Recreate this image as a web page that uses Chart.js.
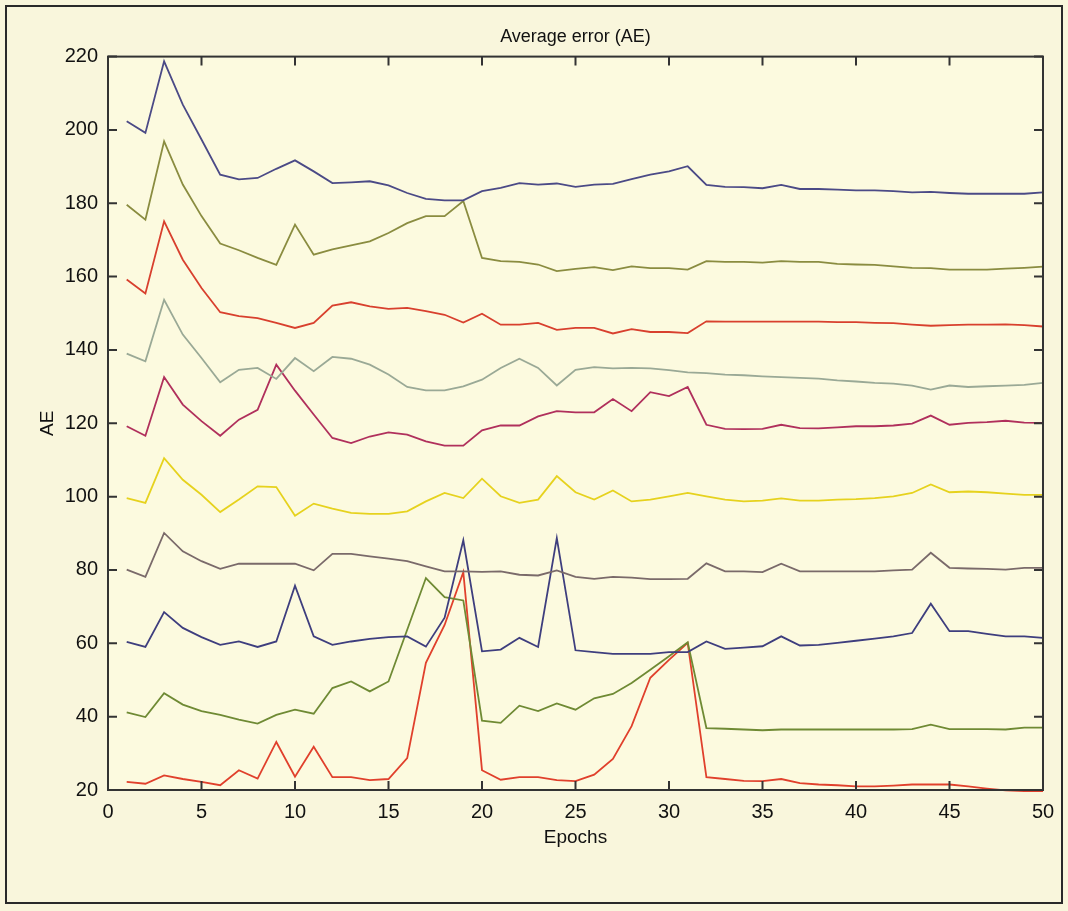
<!DOCTYPE html>
<html lang="en">
  <head>
    <meta charset="UTF-8" />
    <title>Average error (AE)</title>
    <script src="https://cdn.jsdelivr.net/npm/chart.js"></script>
    <style>
      html, body { margin: 0; padding: 0; background: #f9f6dc; }
      #wrap { position: relative; width: 1068px; height: 911px; }
      #frame { position: absolute; left: 5px; top: 5px; width: 1058px; height: 899px; border: 2px solid #2a2a2a; box-sizing: border-box; pointer-events: none; }
      canvas { position: absolute; left: 0; top: 0; }
    </style>
  </head>
  <body>
    <div id="wrap">
      <canvas id="chart" width="1068" height="911"></canvas>
      <div id="frame"></div>
    </div>

    <script>
      // epochs and tick values
      const epochs = [1,2,3,4,5,6,7,8,9,10,11,12,13,14,15,16,17,18,19,20,21,22,23,24,25,26,27,28,29,30,31,32,33,34,35,36,37,38,39,40,41,42,43,44,45,46,47,48,49,50];
      const xTicks = [0, 5, 10, 15, 20, 25, 30, 35, 40, 45, 50];
      const yTicks = [20, 40, 60, 80, 100, 120, 140, 160, 180, 200, 220];

      // series, top to bottom
      const s1 = [202.4,199.2,218.7,206.9,197.4,187.8,186.5,186.9,189.4,191.7,188.7,185.5,185.7,186.0,184.9,182.8,181.2,180.8,180.8,183.3,184.2,185.5,185.1,185.4,184.5,185.1,185.3,186.6,187.8,188.7,190.1,185.0,184.5,184.4,184.1,185.0,183.9,183.9,183.7,183.5,183.5,183.3,183.0,183.1,182.8,182.6,182.6,182.6,182.6,183.0];
      const s2 = [179.6,175.5,196.9,185.1,176.5,169.0,167.2,165.1,163.2,174.2,166.0,167.4,168.5,169.6,171.9,174.6,176.5,176.5,180.6,165.1,164.2,164.0,163.3,161.5,162.1,162.6,161.8,162.8,162.3,162.3,161.9,164.2,164.0,164.0,163.8,164.2,164.0,164.0,163.5,163.3,163.2,162.8,162.4,162.3,161.9,161.9,161.9,162.2,162.4,162.7];
      const s3 = [159.2,155.4,175.1,164.6,156.9,150.3,149.2,148.7,147.4,146.0,147.4,152.1,153.0,151.9,151.2,151.5,150.6,149.6,147.5,149.9,146.9,146.9,147.4,145.5,146.0,146.0,144.5,145.7,144.9,144.9,144.6,147.8,147.7,147.7,147.7,147.7,147.7,147.7,147.6,147.6,147.4,147.3,146.9,146.6,146.8,146.9,146.9,147.0,146.8,146.4];
      const s4 = [139.0,136.9,153.7,144.2,137.8,131.2,134.6,135.1,132.1,137.8,134.2,138.1,137.6,136.0,133.3,129.9,129.0,129.0,130.1,131.9,135.1,137.6,135.1,130.3,134.6,135.3,135.0,135.1,135.0,134.5,133.9,133.7,133.3,133.1,132.8,132.6,132.4,132.2,131.7,131.4,131.0,130.8,130.3,129.2,130.3,129.9,130.1,130.3,130.5,131.0];
      const s5 = [119.2,116.6,132.6,125.1,120.6,116.6,121.0,123.7,136.0,128.9,122.4,116.0,114.6,116.4,117.5,116.9,115.1,113.9,113.9,118.1,119.4,119.4,121.9,123.3,123.0,123.0,126.6,123.3,128.5,127.4,129.9,119.6,118.5,118.4,118.5,119.6,118.7,118.6,118.9,119.2,119.2,119.4,119.9,122.1,119.6,120.1,120.3,120.7,120.2,120.1];
      const s6 = [99.6,98.3,110.5,104.6,100.5,95.8,99.2,102.8,102.6,94.8,98.1,96.7,95.6,95.3,95.3,96.0,98.7,101.0,99.6,104.9,100.1,98.3,99.2,105.6,101.2,99.2,101.7,98.7,99.2,100.1,101.0,100.1,99.2,98.7,98.9,99.5,98.9,98.9,99.2,99.3,99.6,100.1,101.0,103.3,101.2,101.4,101.2,100.8,100.5,100.5];
      const s7 = [80.1,78.1,90.1,85.1,82.4,80.3,81.7,81.7,81.7,81.7,79.9,84.4,84.4,83.7,83.1,82.4,81.0,79.6,79.6,79.5,79.6,78.7,78.5,79.9,78.1,77.6,78.1,77.9,77.5,77.5,77.6,81.8,79.6,79.6,79.4,81.7,79.6,79.6,79.6,79.6,79.6,79.9,80.1,84.7,80.6,80.4,80.3,80.1,80.6,80.6];
      const s8 = [60.4,59.0,68.5,64.2,61.7,59.6,60.5,59.0,60.5,75.7,61.9,59.6,60.5,61.2,61.7,61.9,59.1,67.0,88.1,57.8,58.3,61.5,59.0,88.7,58.1,57.6,57.1,57.1,57.1,57.6,57.6,60.5,58.5,58.8,59.2,61.9,59.4,59.6,60.1,60.7,61.3,61.9,62.8,70.8,63.3,63.3,62.6,61.9,61.9,61.5];
      const s9 = [41.2,39.9,46.4,43.3,41.5,40.5,39.2,38.1,40.5,41.9,40.8,47.8,49.6,46.9,49.6,63.7,77.8,72.6,71.7,38.9,38.3,43.0,41.5,43.6,41.9,45.0,46.2,49.2,52.8,56.5,60.3,36.9,36.7,36.5,36.3,36.5,36.5,36.5,36.5,36.5,36.5,36.5,36.6,37.8,36.6,36.6,36.6,36.5,37.0,37.0];
      const s10 = [22.2,21.7,24.0,23.0,22.2,21.3,25.4,23.1,33.1,23.6,31.8,23.5,23.5,22.7,23.0,28.7,54.7,65.0,79.4,25.4,22.8,23.5,23.5,22.7,22.4,24.2,28.5,37.4,50.6,55.5,60.1,23.5,23.0,22.5,22.4,23.0,21.9,21.5,21.3,21.0,21.0,21.2,21.5,21.5,21.5,21.0,20.4,19.9,19.7,19.7];

      const seriesList = [s1, s2, s3, s4, s5, s6, s7, s8, s9, s10];
      const colors = ["#4b4a86", "#8a8c40", "#d8402e", "#9aa996", "#b0305c", "#e6d21e", "#7a6a6a", "#3e3e7e", "#6f8a34", "#e0402c"];

      const datasets = seriesList.map((s, i) => ({
        data: epochs.map((e, k) => ({ x: e, y: s[k] })),
        borderColor: colors[i],
        borderWidth: 1.8,
        pointRadius: 0,
        tension: 0,
        fill: false,
        clip: 3
      }));

      // matlab style box: plot background, frame and inward ticks
      const matlabBox = {
        id: "matlabBox",
        beforeDraw(chart) {
          const a = chart.chartArea, c = chart.ctx;
          c.save();
          c.fillStyle = "#fcfadf";
          c.fillRect(a.left, a.top, a.right - a.left, a.bottom - a.top);
          c.restore();
        },
        afterDatasetsDraw(chart) {
          const a = chart.chartArea, c = chart.ctx;
          const xs = chart.scales.x, ys = chart.scales.y;
          c.save();
          c.strokeStyle = "#333";
          c.lineWidth = 2;
          c.strokeRect(a.left, a.top, a.right - a.left, a.bottom - a.top);
          c.beginPath();
          xTicks.forEach(v => {
            const px = xs.getPixelForValue(v);
            c.moveTo(px, a.bottom); c.lineTo(px, a.bottom - 9);
            c.moveTo(px, a.top); c.lineTo(px, a.top + 9);
          });
          yTicks.forEach(v => {
            const py = ys.getPixelForValue(v);
            c.moveTo(a.left, py); c.lineTo(a.left + 9, py);
            c.moveTo(a.right, py); c.lineTo(a.right - 9, py);
          });
          c.stroke();
          c.restore();
        }
      };

      Chart.defaults.font.family = "'Liberation Sans', Arial, sans-serif";
      Chart.defaults.color = "#111";

      new Chart(document.getElementById("chart"), {
        type: "line",
        data: { datasets },
        plugins: [matlabBox],
        options: {
          responsive: false,
          animation: false,
          layout: { padding: { left: 0, right: 25, top: 0, bottom: 51 } },
          plugins: {
            legend: { display: false },
            tooltip: { enabled: false },
            title: {
              display: true,
              text: "Average error (AE)",
              fullSize: false,
              color: "#111",
              font: { size: 18, weight: "normal" },
              padding: { top: 26, bottom: 9 }
            }
          },
          scales: {
            x: {
              type: "linear",
              min: 0,
              max: 50,
              grid: { display: false, drawTicks: false },
              border: { display: false },
              ticks: { stepSize: 5, padding: 10, font: { size: 20 }, color: "#111", maxRotation: 0 },
              title: { display: true, text: "Epochs", font: { size: 19 }, color: "#111", padding: { top: 0, bottom: 11 } },
              afterFit(scale) { scale.height = 70; }
            },
            y: {
              min: 20,
              max: 220,
              grid: { display: false, drawTicks: false },
              border: { display: false },
              ticks: { stepSize: 20, padding: 10, font: { size: 20 }, color: "#111" },
              title: { display: true, text: "AE", font: { size: 19 }, color: "#111", padding: { top: 36, bottom: 0 } },
              afterFit(scale) { scale.width = 108; }
            }
          }
        }
      });
    </script>
  </body>
</html>
